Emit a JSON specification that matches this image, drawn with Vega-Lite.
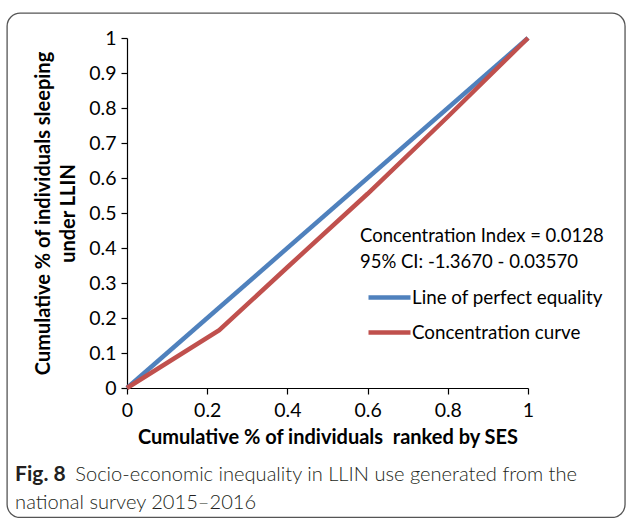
{
  "$schema": "https://vega.github.io/schema/vega-lite/v6.json",
  "width": 401,
  "height": 350,
  "autosize": {"type": "none"},
  "padding": {"left": 127, "top": 38, "right": 99, "bottom": 130},
  "background": "white",
  "config": {
    "view": {"stroke": null},
    "font": "Lato",
    "axis": {"format": "~g", "labelOverlap": false, "labelBound": false, "labelFlush": false, "grid": false, "domainColor": "#000", "tickColor": "#000", "domainWidth": 1.2, "tickWidth": 1.2, "tickSize": 6, "labelFont": "Lato", "labelFontSize": 19.5, "labelColor": "#000", "titleFont": "Lato", "titleFontSize": 20, "titleFontWeight": "bold", "titleColor": "#000"},
    "axisX": {"labelPadding": 7, "titlePadding": 8},
    "axisY": {"labelPadding": 5, "titlePadding": 10, "titleLineHeight": 25}
  },
  "datasets": {
    "curves": [
      {"series": "Line of perfect equality", "x": 0, "y": 0},
      {"series": "Line of perfect equality", "x": 1, "y": 1},
      {"series": "Concentration curve", "x": 0, "y": 0},
      {"series": "Concentration curve", "x": 0.23, "y": 0.165},
      {"series": "Concentration curve", "x": 0.4, "y": 0.345},
      {"series": "Concentration curve", "x": 0.6, "y": 0.555},
      {"series": "Concentration curve", "x": 0.8, "y": 0.775},
      {"series": "Concentration curve", "x": 1, "y": 1}
    ],
    "one": [{}]
  },
  "layer": [
    {
      "data": {"name": "curves"},
      "mark": {"type": "line", "strokeWidth": 4.5, "clip": false},
      "encoding": {
        "x": {"field": "x", "type": "quantitative", "scale": {"domain": [0, 1]},
              "axis": {"values": [0, 0.2, 0.4, 0.6, 0.8, 1], "labelOverlap": false, "title": "Cumulative % of individuals\u00a0\u00a0ranked by SES"}},
        "y": {"field": "y", "type": "quantitative", "scale": {"domain": [0, 1]},
              "axis": {"values": [0, 0.1, 0.2, 0.3, 0.4, 0.5, 0.6, 0.7, 0.8, 0.9, 1], "labelOverlap": false, "title": ["Cumulative % of individuals sleeping", "under LLIN"]}},
        "color": {"field": "series", "type": "nominal",
                  "scale": {"domain": ["Line of perfect equality", "Concentration curve"], "range": ["#4F81BD", "#C0504D"]},
                  "legend": {"title": null, "orient": "none", "legendX": 239, "legendY": 236, "symbolType": "stroke", "symbolSize": 1764, "symbolStrokeWidth": 4.5, "labelFontSize": 18.8, "labelFont": "Lato", "labelColor": "#000", "labelOffset": -1, "labelLimit": 400, "rowPadding": 1}},
        "order": {"field": "x", "type": "quantitative"}
      }
    },
    {
      "data": {"name": "one"},
      "mark": {"type": "rect", "filled": false, "stroke": "#555", "strokeWidth": 1.3, "cornerRadius": 13, "clip": false},
      "encoding": {
        "x": {"datum": -0.299, "type": "quantitative", "scale": {"domain": [0, 1]},
              "axis": {"values": [0, 0.2, 0.4, 0.6, 0.8, 1], "labelOverlap": false, "title": "Cumulative % of individuals\u00a0\u00a0ranked by SES"}},
        "x2": {"datum": 1.242},
        "y": {"datum": 1.071, "type": "quantitative", "scale": {"domain": [0, 1]},
              "axis": {"values": [0, 0.1, 0.2, 0.3, 0.4, 0.5, 0.6, 0.7, 0.8, 0.9, 1], "labelOverlap": false, "title": ["Cumulative % of individuals sleeping", "under LLIN"]}},
        "y2": {"datum": -0.37}
      }
    },
    {
      "data": {"name": "one"},
      "mark": {"type": "text", "align": "left", "baseline": "alphabetic", "fontSize": 18.5, "color": "#000", "lineHeight": 25.5},
      "encoding": {
        "x": {"datum": 0.581, "type": "quantitative", "scale": {"domain": [0, 1]},
              "axis": {"values": [0, 0.2, 0.4, 0.6, 0.8, 1], "labelOverlap": false, "title": "Cumulative % of individuals\u00a0\u00a0ranked by SES"}},
        "y": {"datum": 0.416, "type": "quantitative", "scale": {"domain": [0, 1]},
              "axis": {"values": [0, 0.1, 0.2, 0.3, 0.4, 0.5, 0.6, 0.7, 0.8, 0.9, 1], "labelOverlap": false, "title": ["Cumulative % of individuals sleeping", "under LLIN"]}},
        "text": {"value": ["Concentration Index = 0.0128", "95% CI: -1.3670 - 0.03570"]}
      }
    },
    {
      "data": {"name": "one"},
      "mark": {"type": "text", "align": "left", "baseline": "alphabetic", "fontSize": 21, "fontWeight": "bold", "color": "#231f20", "clip": false},
      "encoding": {
        "x": {"datum": -0.279, "type": "quantitative", "scale": {"domain": [0, 1]},
              "axis": {"values": [0, 0.2, 0.4, 0.6, 0.8, 1], "labelOverlap": false, "title": "Cumulative % of individuals\u00a0\u00a0ranked by SES"}},
        "y": {"datum": -0.266, "type": "quantitative", "scale": {"domain": [0, 1]},
              "axis": {"values": [0, 0.1, 0.2, 0.3, 0.4, 0.5, 0.6, 0.7, 0.8, 0.9, 1], "labelOverlap": false, "title": ["Cumulative % of individuals sleeping", "under LLIN"]}},
        "text": {"value": "Fig. 8"}
      }
    },
    {
      "data": {"name": "one"},
      "mark": {"type": "text", "align": "left", "baseline": "alphabetic", "fontSize": 20.1, "fontWeight": 300, "color": "#231f20", "clip": false},
      "encoding": {
        "x": {"datum": -0.129, "type": "quantitative", "scale": {"domain": [0, 1]},
              "axis": {"values": [0, 0.2, 0.4, 0.6, 0.8, 1], "labelOverlap": false, "title": "Cumulative % of individuals\u00a0\u00a0ranked by SES"}},
        "y": {"datum": -0.266, "type": "quantitative", "scale": {"domain": [0, 1]},
              "axis": {"values": [0, 0.1, 0.2, 0.3, 0.4, 0.5, 0.6, 0.7, 0.8, 0.9, 1], "labelOverlap": false, "title": ["Cumulative % of individuals sleeping", "under LLIN"]}},
        "text": {"value": "Socio-economic inequality in LLIN use generated from the"}
      }
    },
    {
      "data": {"name": "one"},
      "mark": {"type": "text", "align": "left", "baseline": "alphabetic", "fontSize": 20.1, "fontWeight": 300, "color": "#231f20", "clip": false},
      "encoding": {
        "x": {"datum": -0.279, "type": "quantitative", "scale": {"domain": [0, 1]},
              "axis": {"values": [0, 0.2, 0.4, 0.6, 0.8, 1], "labelOverlap": false, "title": "Cumulative % of individuals\u00a0\u00a0ranked by SES"}},
        "y": {"datum": -0.345, "type": "quantitative", "scale": {"domain": [0, 1]},
              "axis": {"values": [0, 0.1, 0.2, 0.3, 0.4, 0.5, 0.6, 0.7, 0.8, 0.9, 1], "labelOverlap": false, "title": ["Cumulative % of individuals sleeping", "under LLIN"]}},
        "text": {"value": "national survey 2015–2016"}
      }
    }
  ]
}
